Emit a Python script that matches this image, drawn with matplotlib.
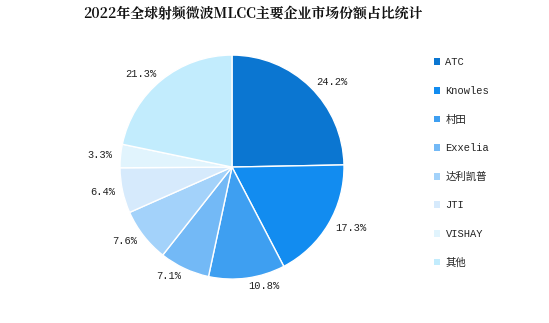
import matplotlib
matplotlib.use('Agg')
import matplotlib.pyplot as plt
from matplotlib.patches import Patch

# Data
companies = ['ATC', 'Knowles', '村田', 'Exxelia', '达利凯普', 'JTI', 'VISHAY', '其他']
shares = [24.2, 17.3, 10.8, 7.1, 7.6, 6.4, 3.3, 21.3]
colors = ['#0b76d1', '#128cf0', '#3e9ff1', '#73b9f6', '#a3d2fa', '#d6eafc', '#e1f4fd', '#c2ecfd']

mono = ['Liberation Mono', 'Noto Sans CJK SC']

fig = plt.figure(figsize=(5.49, 3.23), dpi=100)
ax = fig.add_axes([0.2186, 0.136, 0.408, 0.6935])

wedges, texts = ax.pie(shares, colors=colors, startangle=90, counterclock=False,
                       labels=['%.1f%%' % s for s in shares], labeldistance=1.07,
                       wedgeprops=dict(edgecolor='white', linewidth=1.0),
                       textprops=dict(fontsize=7.5, family=mono, color='#222222'))
ax.set_xlim(-1, 1)
ax.set_ylim(-1, 1)
ax.set_aspect('equal')

# Title
fig.text(0.46, 0.955, '2022年全球射频微波MLCC主要企业市场份额占比统计',
         ha='center', va='center', fontsize=10, fontweight='bold',
         family=['Noto Serif CJK SC', 'Noto Sans CJK SC'], color='#111111')

# Legend
handles = [Patch(facecolor=c, edgecolor='none') for c in colors]
leg = fig.legend(handles, companies, loc='upper left', bbox_to_anchor=(0.783, 0.835),
                 frameon=False, prop=dict(family=mono, size=7.5),
                 handlelength=0.6, handleheight=0.6, handletextpad=0.5,
                 labelspacing=1.78, borderaxespad=0)
for t in leg.get_texts():
    t.set_color('#222222')

fig.savefig('out.png', dpi=100)
